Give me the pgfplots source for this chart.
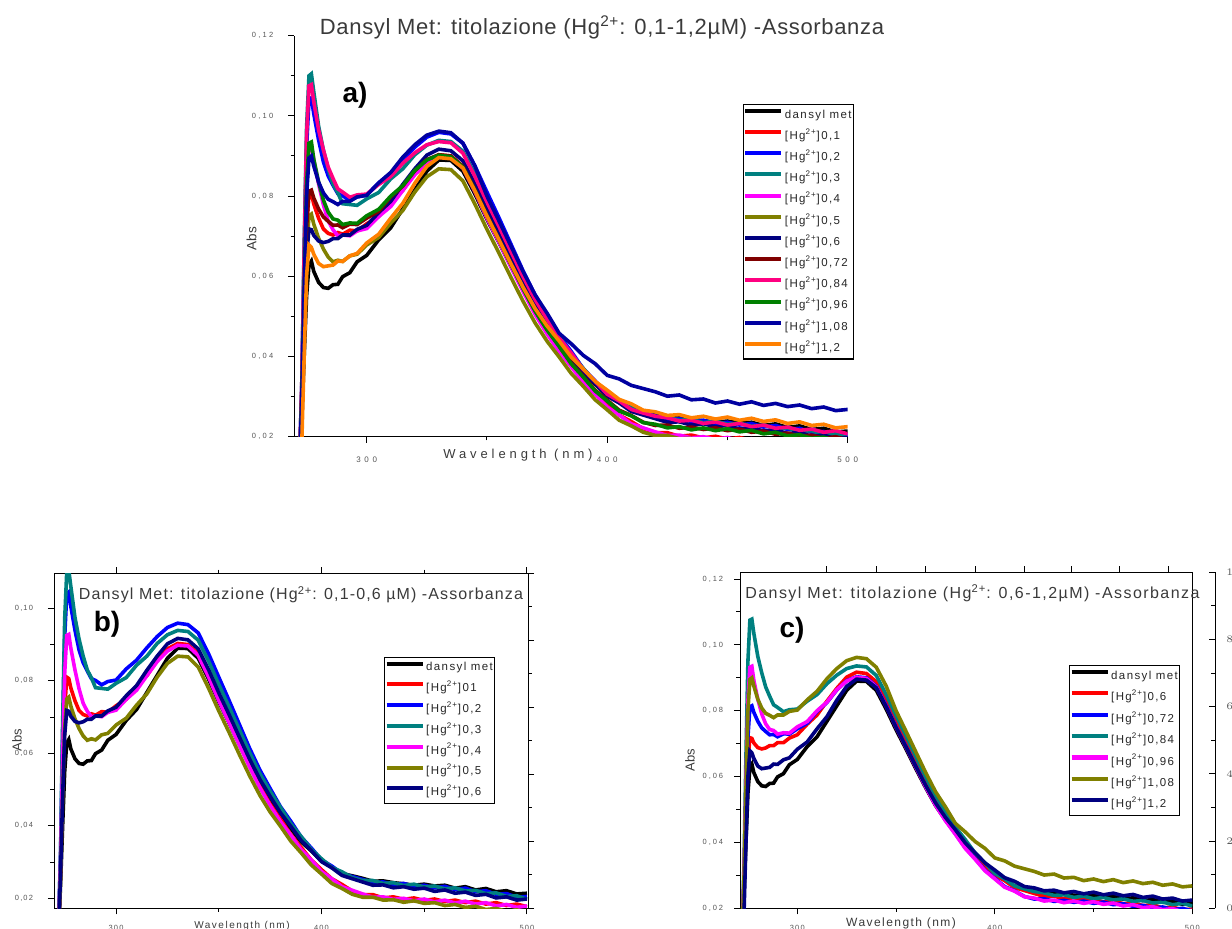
\documentclass[border=0pt]{standalone}
\usepackage{fontspec}
\setmainfont{Liberation Sans}
\newfontfamily\fTa{Liberation Sans}[LetterSpace=3]
\newfontfamily\fTb{Liberation Sans}[LetterSpace=7]
\newfontfamily\fTc{Liberation Sans}[LetterSpace=9]
\newfontfamily\fA{Liberation Sans}[LetterSpace=30]
\newfontfamily\fAx{Liberation Sans}[LetterSpace=45]
\newfontfamily\fB{Liberation Sans}[LetterSpace=15]
\newfontfamily\fC{Liberation Sans}[LetterSpace=25]
\newfontfamily\fXa{Liberation Sans}[LetterSpace=30]
\newfontfamily\fXb{Liberation Sans}[LetterSpace=15]
\newfontfamily\fXc{Liberation Sans}[LetterSpace=12]
\newfontfamily\fLeg{Liberation Sans}[LetterSpace=12]
\usepackage{pgfplots}
\pgfplotsset{compat=1.18}
\usepackage{pgfplotstable}

\definecolor{cDM}{HTML}{000000}
\definecolor{cRed}{HTML}{FF0000}
\definecolor{cBlue}{HTML}{0000FF}
\definecolor{cTeal}{HTML}{008080}
\definecolor{cMag}{HTML}{FF00FF}
\definecolor{cOli}{HTML}{808000}
\definecolor{cNavy}{HTML}{000080}
\definecolor{cWine}{HTML}{800000}
\definecolor{cPink}{HTML}{FF0080}
\definecolor{cGreen}{HTML}{008000}
\definecolor{cRoyal}{HTML}{0000A0}
\definecolor{cOrange}{HTML}{FF8000}
\definecolor{tk}{HTML}{555555}
\definecolor{tx}{HTML}{3A3A3A}

\pgfplotstableread{
nm  dm     h01    h02    h03    h04    h05    h06    h072   h084   h096   h108   h12
270 0      0      0      0      0      0      0      0      0      0      0      0
272 .010   .011   .012   .012   .011   .010   .010   .011   .012   .011   .011   .008
273 .024   .028   .032   .033   .030   .026   .027   .028   .033   .030   .029   .018
274 .040   .052   .065   .068   .058   .048   .048   .052   .066   .058   .056   .040
275 .055   .072   .092   .097   .082   .067   .065   .072   .095   .083   .080   .060
276 .0628  .0810  .1040  .1100  .0925  .0750  .0718  .0812  .1075  .0932  .0895  .0678
277 .0638  .0806  .1045  .1105  .0928  .0755  .0716  .0815  .1078  .0935  .0900  .0672
278 .0612  .0780  .1005  .1060  .0890  .0730  .0702  .0795  .1035  .0892  .0875  .0655
280 .0585  .0745  .0940  .0975  .0830  .0695  .0688  .0768  .0965  .0835  .0835  .0632
282 .0572  .0718  .0885  .0915  .0778  .0668  .0684  .0748  .0915  .0790  .0808  .0624
284 .0570  .0707  .0850  .0868  .0738  .0648  .0687  .0737  .0872  .0760  .0792  .0626
286 .0579  .0703  .0827  .0830  .0716  .0636  .0694  .0727  .0844  .0743  .0786  .0628
288 .0580  .0709  .0806  .0808  .0701  .0640  .0694  .0728  .0818  .0740  .0779  .0638
290 .0599  .0705  .0801  .0781  .0703  .0637  .0703  .0721  .0810  .0729  .0787  .0637
293 .0609  .0715  .0789  .0779  .0701  .0651  .0703  .0730  .0797  .0733  .0787  .0651
296 .0636  .0713  .0798  .0777  .0713  .0655  .0717  .0729  .0803  .0732  .0798  .0657
300 .0652  .0731  .0802  .0793  .0719  .0678  .0727  .0745  .0805  .0751  .0802  .0683
305 .0691  .0749  .0833  .0809  .0749  .0697  .0759  .0762  .0829  .0767  .0833  .0705
310 .0721  .0786  .0857  .0843  .0774  .0733  .0787  .0798  .0849  .0800  .0859  .0745
315 .0768  .0814  .0891  .0868  .0814  .0764  .0829  .0825  .0882  .0826  .0897  .0782
320 .0815  .0856  .0922  .0903  .0853  .0810  .0868  .0863  .0908  .0864  .0928  .0832
325 .0862  .0888  .0947  .0927  .0882  .0848  .0902  .0891  .0928  .0890  .0952  .0874
330 .0890  .0903  .0959  .0939  .0898  .0868  .0917  .0903  .0936  .0902  .0962  .0896
335 .0889  .0900  .0955  .0936  .0896  .0866  .0913  .0900  .0933  .0898  .0958  .0893
340 .0862  .0874  .0932  .0912  .0870  .0838  .0888  .0874  .0907  .0872  .0932  .0870
345 .0805  .0815  .0875  .0855  .0811  .0780  .0831  .0816  .0849  .0814  .0875  .0813
350 .0742  .0750  .0810  .0790  .0745  .0717  .0767  .0752  .0785  .0750  .0800  .0750
355 .0684  .0690  .0746  .0728  .0685  .0658  .0707  .0692  .0724  .0690  .0738  .0691
360 .0624  .0628  .0680  .0665  .0623  .0597  .0645  .0631  .0661  .0629  .0675  .0631
365 .0566  .0567  .0614  .0602  .0562  .0538  .0584  .0571  .0599  .0569  .0612  .0573
370 .0512  .0509  .0554  .0544  .0505  .0484  .0528  .0515  .0542  .0513  .0554  .0520
375 .0468  .0460  .0503  .0495  .0456  .0438  .0481  .0468  .0493  .0466  .0508  .0476
380 .0428  .0419  .0453  .0451  .0412  .0399  .0436  .0427  .0447  .0425  .0458  .0439
385 .0393  .0376  .0413  .0406  .0375  .0358  .0399  .0384  .0409  .0382  .0432  .0399
390 .0356  .0341  .0370  .0371  .0335  .0326  .0360  .0351  .0368  .0349  .0403  .0369
395 .0331  .0306  .0339  .0335  .0306  .0292  .0332  .0316  .0338  .0314  .0382  .0338
400 .0303  .0279  .0306  .0309  .0274  .0267  .0301  .0291  .0306  .0289  .0353  .0316
405 .0287  .0254  .0289  .0285  .0254  .0241  .0284  .0266  .0289  .0264  .0344  .0293
410 .0268  .0238  .0268  .0273  .0232  .0227  .0263  .0253  .0268  .0252  .0328  .0282
415 .0262  .0220  .0260  .0257  .0222  .0211  .0254  .0236  .0259  .0235  .0320  .0266
420 .0255  .0210  .0252  .0249  .0212  .0203  .0245  .0228  .0251  .0231  .0312  .0262
425 .0247  .0210  .0244  .0249  .0203  .0203  .0236  .0229  .0247  .0222  .0301  .0253
430 .0248  .0201  .0245  .0241  .0204  .0195  .0237  .0221  .0239  .0225  .0304  .0255
435 .0243  .0204  .0238  .0243  .0197  .0196  .0229  .0224  .0241  .0217  .0292  .0247
440 .0240  .0197  .0241  .0235  .0200  .0189  .0232  .0218  .0233  .0222  .0294  .0251
445 .0236  .0201  .0233  .0239  .0193  .0193  .0225  .0222  .0237  .0215  .0284  .0244
450 .0239  .0194  .0236  .0231  .0198  .0186  .0228  .0215  .0229  .0220  .0289  .0249
455 .0234  .0198  .0229  .0234  .0190  .0188  .0219  .0219  .0233  .0212  .0281  .0241
460 .0236  .0191  .0233  .0226  .0195  .0180  .0223  .0211  .0225  .0216  .0287  .0246
465 .0228  .0195  .0224  .0229  .0187  .0183  .0214  .0214  .0229  .0207  .0278  .0238
470 .0232  .0188  .0228  .0220  .0192  .0175  .0217  .0206  .0221  .0211  .0283  .0242
475 .0223  .0192  .0218  .0222  .0184  .0178  .0208  .0209  .0224  .0202  .0275  .0233
480 .0227  .0184  .0221  .0213  .0188  .0169  .0211  .0201  .0216  .0205  .0279  .0237
485 .0218  .0188  .0211  .0215  .0179  .0172  .0201  .0204  .0219  .0196  .0270  .0228
490 .0221  .0180  .0213  .0205  .0183  .0164  .0204  .0196  .0211  .0199  .0274  .0231
495 .0212  .0184  .0203  .0207  .0175  .0168  .0195  .0200  .0215  .0190  .0265  .0222
500 .0214  .0177  .0205  .0197  .0179  .0161  .0198  .0192  .0207  .0193  .0268  .0225
}\spec

\pgfplotsset{
  legend image code/.code={\draw[#1, line width=2bp] (0bp,2.2bp) -- (18bp,2.2bp);},
  common/.style={
    scale only axis, anchor=south west,
    tick align=outside, clip mode=individual,
    major tick length=3bp, minor tick length=1.8bp,
    every tick/.append style={black, line width=0.5bp},
    axis line style={line width=0.5bp, black},
    scaled y ticks=false,
    yticklabel style={/pgf/number format/fixed, /pgf/number format/fixed zerofill,
       /pgf/number format/precision=2, /pgf/number format/use comma,
       /pgf/number format/assume math mode=true},
    xticklabel style={/pgf/number format/assume math mode=true},
    tick label style={color=tk},
    legend cell align=left,
    every axis plot/.append style={line width=1.8bp},
  },
  leg/.style={legend style={draw=black, line width=0.6bp, fill=white,
      inner xsep=0pt, inner ysep=0pt, row sep=0pt, column sep=0pt,
      font=\fLeg\fontsize{5.75bp}{6bp}\selectfont, text=black!85,
      nodes={inner xsep=0.8bp, inner ysep=0pt, text height=#1, text depth=3.8bp}}},
  rightax/.style={scale only axis, anchor=south west, xmin=0, xmax=1, ymin=0, ymax=10,
      hide x axis, axis y line*=right, ytick={0,2,4,6,8,10}, minor ytick={1,3,5,7,9},
      major tick length=3bp, minor tick length=1.8bp,
      every tick/.append style={black, line width=0.5bp},
      axis line style={line width=0.5bp, black},
      yticklabel style={color=tk, font=\fC\fontsize{3.75bp}{4bp}\selectfont}},
}

\begin{document}
\begin{tikzpicture}
\useasboundingbox (0,0) rectangle (616bp,464.5bp);

% ---------------- panel a ----------------
\begin{axis}[common, leg=6.8bp,
  at={(147.15bp,246.15bp)}, width=276.7bp, height=200.5bp,
  xmin=269.9, xmax=500, ymin=0.02, ymax=0.12,
  axis x line*=bottom, axis y line*=left,
  xtick={300,400,500}, minor xtick={350,450},
  ytick={0.02,0.04,0.06,0.08,0.10,0.12}, minor ytick={0.03,0.05,0.07,0.09,0.11},
  yticklabel style={font=\fA\fontsize{3.75bp}{4bp}\selectfont, xshift=-4bp},
  xticklabel style={font=\fAx\fontsize{4bp}{4.5bp}\selectfont, yshift=-3.5bp},
  title={Dansyl Met: titolazione (Hg\textsuperscript{2+}: 0,1-1,2µM) -Assorbanza},
  every axis title/.style={at={(axis description cs:0.556,1.0217)}, anchor=center, inner sep=0pt,
     font=\fTa\fontsize{11bp}{12bp}\selectfont, text=tx},
  xlabel={Wavelength (nm)},
  xlabel style={at={(axis description cs:0.4042,-0.0456)}, anchor=center, inner sep=0pt,
     font=\fXa\fontsize{6.5bp}{7bp}\selectfont, text=tx},
  ylabel={Abs},
  ylabel style={at={(axis description cs:-0.0773,0.4943)}, anchor=center, inner sep=0pt,
     font=\fontsize{6.75bp}{7bp}\selectfont, text=tx},
  legend style={at={(0.8103,0.8297)}, anchor=north west},
]
\addplot[cDM]    table[x=nm,y=dm]   {\spec}; \addlegendentry{dansyl met}
\addplot[cRed]   table[x=nm,y=h01]  {\spec}; \addlegendentry{[Hg\textsuperscript{2+}]0,1}
\addplot[cBlue]  table[x=nm,y=h02]  {\spec}; \addlegendentry{[Hg\textsuperscript{2+}]0,2}
\addplot[cTeal]  table[x=nm,y=h03]  {\spec}; \addlegendentry{[Hg\textsuperscript{2+}]0,3}
\addplot[cMag]   table[x=nm,y=h04]  {\spec}; \addlegendentry{[Hg\textsuperscript{2+}]0,4}
\addplot[cOli]   table[x=nm,y=h05]  {\spec}; \addlegendentry{[Hg\textsuperscript{2+}]0,5}
\addplot[cNavy]  table[x=nm,y=h06]  {\spec}; \addlegendentry{[Hg\textsuperscript{2+}]0,6}
\addplot[cWine]  table[x=nm,y=h072] {\spec}; \addlegendentry{[Hg\textsuperscript{2+}]0,72}
\addplot[cPink]  table[x=nm,y=h084] {\spec}; \addlegendentry{[Hg\textsuperscript{2+}]0,84}
\addplot[cGreen] table[x=nm,y=h096] {\spec}; \addlegendentry{[Hg\textsuperscript{2+}]0,96}
\addplot[cRoyal] table[x=nm,y=h108] {\spec}; \addlegendentry{[Hg\textsuperscript{2+}]1,08}
\addplot[cOrange]table[x=nm,y=h12]  {\spec}; \addlegendentry{[Hg\textsuperscript{2+}]1,2}
\node[font=\bfseries\fontsize{14bp}{15bp}\selectfont, inner sep=0pt] at (rel axis cs:0.1097,0.8509) {a)};
\end{axis}

% ---------------- panel b ----------------
\begin{axis}[rightax, at={(27bp,10.35bp)}, width=237bp, height=167.5bp,
  tick align=outside, yticklabels={}]
\end{axis}
\begin{axis}[common, leg=6.6bp,
  at={(27bp,10.35bp)}, width=237bp, height=167.5bp,
  xmin=269.8, xmax=500.5, ymin=0.01724, ymax=0.10966,
  xtick pos=both, ytick pos=left,
  xtick={300,400,500}, minor xtick={350,450},
  ytick={0.02,0.04,0.06,0.08,0.10}, minor ytick={0.03,0.05,0.07,0.09},
  yticklabel style={font=\fB\fontsize{3.75bp}{4bp}\selectfont, xshift=-4bp},
  xticklabel style={font=\fB\fontsize{3.75bp}{4.5bp}\selectfont, yshift=-1.75bp},
  xlabel={Wavelength (nm)},
  xlabel style={at={(axis description cs:0.3966,-0.0528)}, anchor=center, inner sep=0pt,
     font=\fXb\fontsize{5bp}{6bp}\selectfont, text=tx},
  ylabel={Abs},
  ylabel style={at={(axis description cs:-0.078,0.5024)}, anchor=center, inner sep=0pt,
     font=\fontsize{6.5bp}{7bp}\selectfont, text=tx},
  legend style={at={(0.6962,0.7501)}, anchor=north west},
]
\addplot[cDM]    table[x=nm,y=dm]   {\spec}; \addlegendentry{dansyl met}
\addplot[cRed]   table[x=nm,y=h01]  {\spec}; \addlegendentry{[Hg\textsuperscript{2+}]01}
\addplot[cBlue]  table[x=nm,y=h02]  {\spec}; \addlegendentry{[Hg\textsuperscript{2+}]0,2}
\addplot[cTeal]  table[x=nm,y=h03]  {\spec}; \addlegendentry{[Hg\textsuperscript{2+}]0,3}
\addplot[cMag]   table[x=nm,y=h04]  {\spec}; \addlegendentry{[Hg\textsuperscript{2+}]0,4}
\addplot[cOli]   table[x=nm,y=h05]  {\spec}; \addlegendentry{[Hg\textsuperscript{2+}]0,5}
\addplot[cNavy]  table[x=nm,y=h06]  {\spec}; \addlegendentry{[Hg\textsuperscript{2+}]0,6}
\node[font=\fTb\fontsize{8bp}{9bp}\selectfont, text=tx, inner sep=0pt, anchor=west] at (rel axis cs:0.0519,0.9361) {Dansyl Met: titolazione (Hg\textsuperscript{2+}: 0,1-0,6 µM) -Assorbanza};
\node[font=\bfseries\fontsize{14bp}{15bp}\selectfont, inner sep=0pt] at (rel axis cs:0.1118,0.8487) {b)};
\end{axis}

% ---------------- panel c ----------------
\begin{axis}[rightax, at={(381.35bp,10.35bp)}, width=226.15bp, height=168bp,
  tick align=inside, yticklabel style={xshift=2.2bp}]
\end{axis}
\begin{axis}[scale only axis, anchor=south west, at={(370bp,10.35bp)}, width=226.15bp, height=168bp,
  xmin=270.99, xmax=500, ymin=0, ymax=1, hide y axis, axis x line*=top,
  xtick={315,340,365,390,415,439,463,488}, xticklabels={}, tick align=outside,
  major tick length=3bp, every tick/.append style={black, line width=0.5bp},
  axis line style={line width=0.5bp, black}]
\end{axis}
\begin{axis}[common, leg=6.9bp,
  at={(370bp,10.35bp)}, width=226.15bp, height=168bp,
  xmin=270.99, xmax=500, ymin=0.02, ymax=0.12204,
  xtick pos=bottom, ytick pos=left,
  xtick={300,400,500}, minor xtick={350,450},
  ytick={0.02,0.04,0.06,0.08,0.10,0.12}, minor ytick={0.03,0.05,0.07,0.09,0.11},
  yticklabel style={font=\fC\fontsize{3.75bp}{4bp}\selectfont, xshift=-2bp},
  xticklabel style={font=\fB\fontsize{3.75bp}{4.5bp}\selectfont, yshift=-1.75bp},
  xlabel={Wavelength (nm)},
  xlabel style={at={(axis description cs:0.356,-0.0435)}, anchor=center, inner sep=0pt,
     font=\fXc\fontsize{6bp}{7bp}\selectfont, text=tx},
  ylabel={Abs},
  ylabel style={at={(axis description cs:-0.1105,0.4414)}, anchor=center, inner sep=0pt,
     font=\fontsize{6.5bp}{7bp}\selectfont, text=tx},
  legend style={at={(0.7274,0.7241)}, anchor=north west},
]
\addplot[cDM]    table[x=nm,y=dm]   {\spec}; \addlegendentry{dansyl met}
\addplot[cRed]   table[x=nm,y=h06]  {\spec}; \addlegendentry{[Hg\textsuperscript{2+}]0,6}
\addplot[cBlue]  table[x=nm,y=h072] {\spec}; \addlegendentry{[Hg\textsuperscript{2+}]0,72}
\addplot[cTeal]  table[x=nm,y=h084] {\spec}; \addlegendentry{[Hg\textsuperscript{2+}]0,84}
\addplot[cMag]   table[x=nm,y=h096] {\spec}; \addlegendentry{[Hg\textsuperscript{2+}]0,96}
\addplot[cOli]   table[x=nm,y=h108] {\spec}; \addlegendentry{[Hg\textsuperscript{2+}]1,08}
\addplot[cNavy]  table[x=nm,y=h12]  {\spec}; \addlegendentry{[Hg\textsuperscript{2+}]1,2}
\node[font=\fTc\fontsize{8bp}{9bp}\selectfont, text=tx, inner sep=0pt, anchor=west] at (rel axis cs:0.011,0.9375) {Dansyl Met: titolazione (Hg\textsuperscript{2+}: 0,6-1,2µM) -Assorbanza};
\node[font=\bfseries\fontsize{14bp}{15bp}\selectfont, inner sep=0pt] at (rel axis cs:0.115,0.8283) {c)};
\end{axis}
\end{tikzpicture}
\end{document}
